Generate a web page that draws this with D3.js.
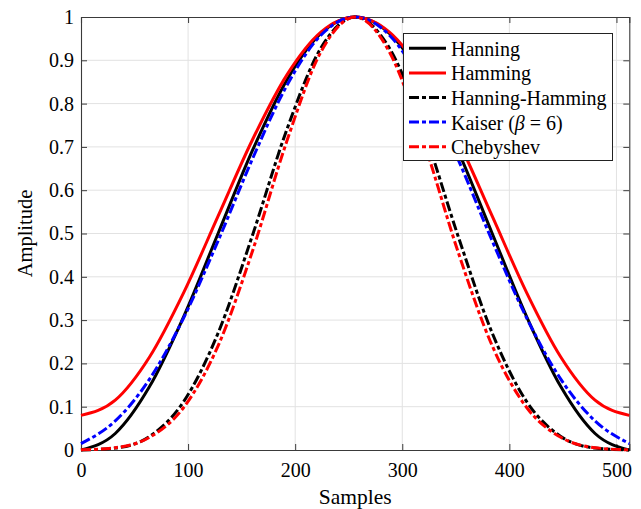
<!DOCTYPE html>
<html>
<head>
<meta charset="utf-8">
<script src="https://cdn.jsdelivr.net/npm/d3@7"></script>
<style>
  html, body { margin: 0; padding: 0; background: #fff; }
  svg { display: block; }
</style>
</head>
<body>
<svg id="chart" width="641" height="509"></svg>
<script>
// ---- data ----
const samples = [0, 32, 64, 96, 128, 160, 192, 224, 256, 288, 320, 352, 384, 416, 448, 480, 512];

const hanning       = [0, 0.0381, 0.1464, 0.3087, 0.5000, 0.6913, 0.8536, 0.9619, 1, 0.9619, 0.8536, 0.6913, 0.5000, 0.3087, 0.1464, 0.0381, 0];
const hamming       = [0.08, 0.1150, 0.2147, 0.3640, 0.5400, 0.7160, 0.8653, 0.9650, 1, 0.9650, 0.8653, 0.7160, 0.5400, 0.3640, 0.2147, 0.1150, 0.08];
const hanningHamming= [0, 0.0044, 0.0314, 0.1124, 0.2700, 0.4950, 0.7386, 0.9282, 1, 0.9282, 0.7386, 0.4950, 0.2700, 0.1124, 0.0314, 0.0044, 0];
const kaiser        = [0.0149, 0.0672, 0.1636, 0.3058, 0.4830, 0.6717, 0.8407, 0.9580, 1, 0.9580, 0.8407, 0.6717, 0.4830, 0.3058, 0.1636, 0.0672, 0.0149];
const chebyshev     = [0.0003, 0.0053, 0.0293, 0.0987, 0.2406, 0.4585, 0.7117, 0.9193, 1, 0.9193, 0.7117, 0.4585, 0.2406, 0.0987, 0.0293, 0.0053, 0.0003];

const seriesNames = ["Hanning", "Hamming", "Hanning-Hamming", "Kaiser", "Chebyshev"];
const xTicks = [0, 100, 200, 300, 400, 500];
const yTicks = [0, 0.1, 0.2, 0.3, 0.4, 0.5, 0.6, 0.7, 0.8, 0.9, 1];
const xLabel = "Samples";
const yLabel = "Amplitude";

// ---- styles ----
const FONT = "Liberation Serif";
const LW = 3;
const styles = [
  { color: "#000000", dash: null },
  { color: "#ff0000", dash: null },
  { color: "#000000", dash: "10,3,4,3" },
  { color: "#0000ff", dash: "10,3,4,3" },
  { color: "#ff0000", dash: "10,3,4,3" }
];
const seriesValues = [hanning, hamming, hanningHamming, kaiser, chebyshev];

const svg = d3.select("#chart");
const L = 81, R = 629.3, T = 17, B = 450;

const x = d3.scaleLinear().domain([0, 512]).range([L, R]);
const y = d3.scaleLinear().domain([0, 1]).range([B, T]);

// grid
const grid = svg.append("g");
grid.selectAll("line.gx").data(xTicks.filter(d => d > 0)).enter().append("line")
  .attr("x1", d => x(d)).attr("x2", d => x(d)).attr("y1", T).attr("y2", B)
  .attr("stroke", "#e2e2e2").attr("stroke-width", 1);
grid.selectAll("line.gy").data(yTicks.filter(d => d > 0 && d < 1)).enter().append("line")
  .attr("x1", L).attr("x2", R).attr("y1", d => y(d)).attr("y2", d => y(d))
  .attr("stroke", "#e2e2e2").attr("stroke-width", 1);

// axes
const fmt = d => d === 0 ? "0" : d === 1 ? "1" : d3.format(".1f")(d);
const axColor = "#3a3a3a";
const gxB = svg.append("g").attr("transform", `translate(0,${B})`)
  .call(d3.axisBottom(x).tickValues(xTicks).tickSize(-6).tickPadding(13).tickFormat(d3.format("d")));
const gxT = svg.append("g").attr("transform", `translate(0,${T})`)
  .call(d3.axisTop(x).tickValues(xTicks).tickSize(-6).tickFormat(""));
const gyL = svg.append("g").attr("transform", `translate(${L},0)`)
  .call(d3.axisLeft(y).tickValues(yTicks).tickSize(-6).tickPadding(7).tickFormat(fmt));
const gyR = svg.append("g").attr("transform", `translate(${R},0)`)
  .call(d3.axisRight(y).tickValues(yTicks).tickSize(-6).tickFormat(""));
[gxB, gxT, gyL, gyR].forEach(g => {
  g.attr("font-family", FONT).attr("font-size", 20);
  g.select(".domain").attr("stroke", axColor).attr("stroke-width", 1.1);
  g.selectAll(".tick line").attr("stroke", axColor).attr("stroke-width", 1);
  g.selectAll(".tick text").style("font-family", FONT).attr("font-size", 20).attr("fill", "#000");
});

// lines
const line = d3.line().curve(d3.curveMonotoneX);
const lines = svg.append("g");
seriesValues.forEach((vals, i) => {
  const pts = samples.map((s, j) => [x(s), y(vals[j])]);
  lines.append("path")
    .attr("d", line(pts))
    .attr("fill", "none")
    .attr("stroke", styles[i].color)
    .attr("stroke-width", LW)
    .attr("stroke-dasharray", styles[i].dash)
    .attr("stroke-linejoin", "round");
});

// axis labels
svg.append("text").attr("x", (L + R) / 2).attr("y", 504).attr("text-anchor", "middle")
  .style("font-family", FONT).attr("font-size", 21.5).attr("fill", "#000").text(xLabel);
svg.append("text").attr("transform", `translate(32,${(T + B) / 2}) rotate(-90)`)
  .attr("text-anchor", "middle").style("font-family", FONT).attr("font-size", 20.5).attr("fill", "#000").text(yLabel);

// legend
const lg = svg.append("g");
lg.append("rect").attr("x", 403.5).attr("y", 33.5).attr("width", 209).attr("height", 127)
  .attr("fill", "#fff").attr("stroke", "#222").attr("stroke-width", 1);
seriesNames.forEach((name, i) => {
  const ly = 48.3 + i * 24.6;
  lg.append("line").attr("x1", 409).attr("x2", 446).attr("y1", ly).attr("y2", ly)
    .attr("stroke", styles[i].color).attr("stroke-width", LW)
    .attr("stroke-dasharray", styles[i].dash);
  const t = lg.append("text").attr("x", 451).attr("y", ly + 7.5)
    .style("font-family", FONT).attr("font-size", 20).attr("fill", "#000");
  if (name === "Kaiser") {
    t.append("tspan").text("Kaiser (");
    t.append("tspan").attr("font-style", "italic").text("β");
    t.append("tspan").text(" = 6)");
  } else {
    t.text(name);
  }
});
</script>
</body>
</html>
